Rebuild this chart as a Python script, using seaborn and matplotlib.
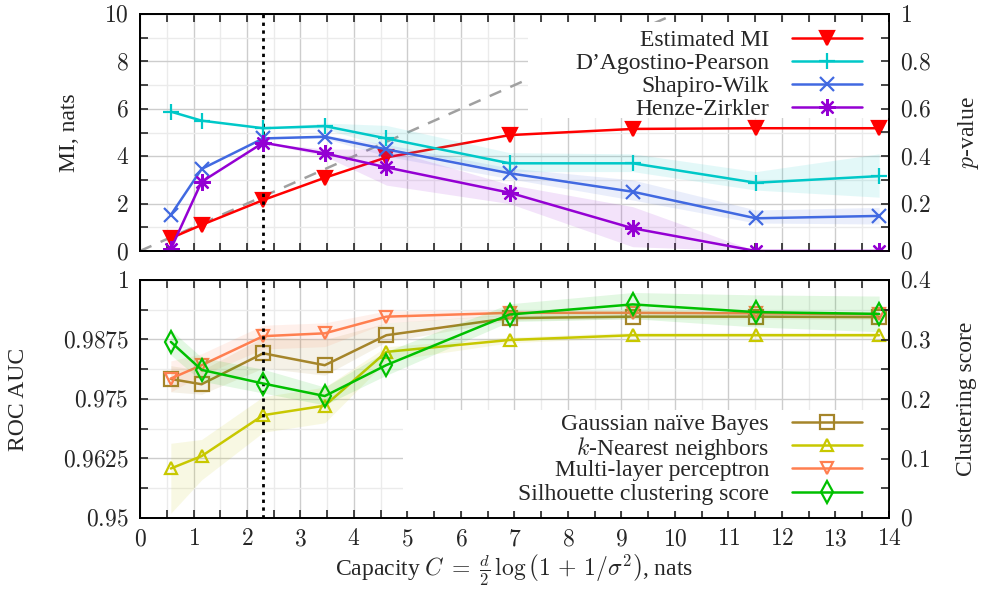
import matplotlib
matplotlib.use("Agg")
import matplotlib.pyplot as plt
import seaborn as sns
from matplotlib.patches import Rectangle
from matplotlib.ticker import MultipleLocator, FuncFormatter

# capacity values (nats) at which the experiments were run
capacity = [0.576, 1.151, 2.303, 3.454, 4.605, 6.908, 9.210, 11.513, 13.816]
capacity_marked = 2.303
diag = [0, 14]

# top panel: estimated MI (left axis) and normality test p-values (right axis)
mi_est = [0.54, 1.10, 2.15, 3.09, 3.95, 4.89, 5.15, 5.18, 5.18]

p_dagostino = [0.588, 0.550, 0.518, 0.527, 0.475, 0.370, 0.370, 0.288, 0.316]
p_dagostino_lo = [0.588, 0.550, 0.518, 0.515, 0.440, 0.335, 0.335, 0.257, 0.227]
p_dagostino_hi = [0.588, 0.550, 0.518, 0.540, 0.530, 0.415, 0.410, 0.335, 0.410]

p_shapiro = [0.152, 0.346, 0.475, 0.482, 0.429, 0.328, 0.250, 0.138, 0.148]
p_shapiro_lo = [0.152, 0.346, 0.475, 0.475, 0.400, 0.305, 0.215, 0.118, 0.114]
p_shapiro_hi = [0.152, 0.346, 0.475, 0.490, 0.450, 0.350, 0.300, 0.173, 0.184]

p_henze = [0.008, 0.292, 0.457, 0.412, 0.353, 0.246, 0.096, 0.0, 0.0]
p_henze_lo = [0.008, 0.292, 0.457, 0.400, 0.278, 0.200, 0.018, 0.0, 0.0]
p_henze_hi = [0.008, 0.292, 0.457, 0.430, 0.430, 0.280, 0.187, 0.0, 0.0]

# bottom panel: classifier ROC AUC (left axis) and clustering score (right axis)
auc_gnb = [0.9792, 0.9781, 0.9846, 0.9821, 0.9884, 0.9920, 0.9923, 0.9923, 0.9922]
auc_gnb_lo = [0.9765, 0.9760, 0.9815, 0.9800, 0.9870, 0.9915, 0.9918, 0.9918, 0.9917]
auc_gnb_hi = [0.9820, 0.9810, 0.9880, 0.9875, 0.9910, 0.9928, 0.9928, 0.9928, 0.9927]

auc_knn = [0.9604, 0.9630, 0.9716, 0.9736, 0.9849, 0.9874, 0.9884, 0.9884, 0.9884]
auc_knn_lo = [0.9510, 0.9580, 0.9680, 0.9700, 0.9830, 0.9868, 0.9880, 0.9880, 0.9880]
auc_knn_hi = [0.9657, 0.9665, 0.9755, 0.9775, 0.9860, 0.9880, 0.9890, 0.9890, 0.9890]

auc_mlp = [0.9793, 0.9821, 0.9882, 0.9888, 0.9923, 0.9931, 0.9931, 0.9930, 0.9928]
auc_mlp_lo = [0.9765, 0.9800, 0.9855, 0.9860, 0.9910, 0.9926, 0.9926, 0.9926, 0.9924]
auc_mlp_hi = [0.9830, 0.9845, 0.9905, 0.9910, 0.9935, 0.9936, 0.9936, 0.9934, 0.9932]

silhouette = [0.296, 0.249, 0.226, 0.205, 0.257, 0.342, 0.359, 0.346, 0.343]
silhouette_lo = [0.274, 0.230, 0.210, 0.190, 0.240, 0.330, 0.335, 0.321, 0.313]
silhouette_hi = [0.316, 0.270, 0.250, 0.220, 0.280, 0.360, 0.379, 0.375, 0.373]

sns.set_style("white")
plt.rcParams['font.family'] = ['Liberation Serif', 'DejaVu Serif']
plt.rcParams['mathtext.fontset'] = 'cm'
FS = 17

W = 982.0
H = 592.0
AX_W = 749.0


def draw_series(ax, y, color, marker, label, lo=None, hi=None, filled=False, ms=9):
    if lo is not None:
        ax.fill_between(capacity, lo, hi, color=color, alpha=0.11, lw=0)
    sns.lineplot(x=capacity, y=y, ax=ax, color=color, marker=marker, markersize=ms,
                 linewidth=1.8, markeredgecolor=color, markeredgewidth=1.6,
                 markerfacecolor=color if filled else 'none', label=label, legend=False)


def math_fmt(v, pos):
    return '${:g}$'.format(round(v, 6))


def style_axes(ax, ax2, xlabels):
    ax.set_xlim(0, 14)
    ax.xaxis.set_major_locator(MultipleLocator(1))
    ax.xaxis.set_minor_locator(MultipleLocator(0.5))
    ax.grid(which='major', color='#cdcdcd', lw=1)
    ax.grid(which='minor', color='#ebebeb', lw=1)
    ax.set_axisbelow(True)
    ax.tick_params(which='both', direction='in', length=6, width=1.2, top=True,
                   bottom=True, labelbottom=xlabels, labelsize=FS, pad=8)
    ax2.tick_params(which='both', direction='in', length=6, width=1.2, labelsize=FS, pad=8)
    for a in (ax, ax2):
        a.xaxis.set_major_formatter(FuncFormatter(math_fmt))
        a.yaxis.set_major_formatter(FuncFormatter(math_fmt))
        for s in a.spines.values():
            s.set_linewidth(1.3)
            s.set_color('black')
    ax.axvline(capacity_marked, color='black', ls=(0, (1.2, 1.6)), lw=2)


def add_key(ax, ax2, box, rows_px, ax_bottom_px, ax_h_px):
    # gnuplot-like key: white box, right-aligned text, sample line to the right
    ax2.add_patch(Rectangle(box[0], box[1], box[2], transform=ax2.transAxes,
                            facecolor='white', edgecolor='none', zorder=0.5))
    lines = ax.get_lines() + ax2.get_lines()
    lines = [ln for ln in lines if not ln.get_label().startswith('_')]
    x_text = (769 - 140) / AX_W
    x0 = (792 - 140) / AX_W
    x1 = (862 - 140) / AX_W
    for ln, ypx in zip(lines, rows_px):
        yy = (ax_bottom_px - ypx) / ax_h_px
        ax2.text(x_text, yy, ln.get_label(), transform=ax2.transAxes, ha='right',
                 va='center_baseline', fontsize=FS, zorder=5)
        ax2.plot([x0, x1], [yy, yy], transform=ax2.transAxes, color=ln.get_color(),
                 lw=ln.get_linewidth(), zorder=5, clip_on=False)
        ax2.plot([(x0 + x1) / 2], [yy], transform=ax2.transAxes, ls='none',
                 marker=ln.get_marker(), markersize=ln.get_markersize(),
                 markeredgecolor=ln.get_markeredgecolor(),
                 markerfacecolor=ln.get_markerfacecolor(),
                 markeredgewidth=ln.get_markeredgewidth(), zorder=6, clip_on=False)


fig = plt.figure(figsize=(9.82, 5.92), dpi=100)
ax_top = fig.add_axes([140 / W, 1 - 251 / H, AX_W / W, 237 / H])
ax_top2 = ax_top.twinx()
ax_bot = fig.add_axes([140 / W, 1 - 518 / H, AX_W / W, 238 / H])
ax_bot2 = ax_bot.twinx()

# --- top panel ---
ax_top.plot(diag, diag, color='#a0a0a0', ls=(0, (5, 4)), lw=1.8)
draw_series(ax_top, mi_est, '#ff0000', 'v', 'Estimated MI', filled=True, ms=10)
draw_series(ax_top2, p_dagostino, '#00c8c8', '+', 'D\u2019Agostino-Pearson',
            p_dagostino_lo, p_dagostino_hi, ms=12)
draw_series(ax_top2, p_shapiro, '#4169e1', 'x', 'Shapiro-Wilk',
            p_shapiro_lo, p_shapiro_hi, ms=10)
draw_series(ax_top2, p_henze, '#9400d3', (8, 2, 0), 'Henze-Zirkler',
            p_henze_lo, p_henze_hi, ms=12)
ax_top.set_ylim(0, 10)
ax_top.yaxis.set_major_locator(MultipleLocator(2))
ax_top.yaxis.set_minor_locator(MultipleLocator(1))
ax_top2.set_ylim(0, 1)
ax_top2.yaxis.set_major_locator(MultipleLocator(0.2))
ax_top2.yaxis.set_minor_locator(MultipleLocator(0.1))
style_axes(ax_top, ax_top2, False)
ax_top.set_ylabel('MI, nats', fontsize=FS)
ax_top.yaxis.set_label_coords(-0.080, 0.5)
ax_top2.set_ylabel('$p$-value', fontsize=FS)
ax_top2.yaxis.set_label_coords(1.090, 0.5)
add_key(ax_top, ax_top2, ((0.518, 0.561), 0.482, 0.405), [38, 61, 84, 107], 251, 237)

# --- bottom panel ---
draw_series(ax_bot, auc_gnb, '#a5852a', 's', 'Gaussian na\u00efve Bayes', auc_gnb_lo, auc_gnb_hi, ms=10)
draw_series(ax_bot, auc_knn, '#c8c800', '^', '$k$-Nearest neighbors', auc_knn_lo, auc_knn_hi, ms=9)
draw_series(ax_bot, auc_mlp, '#ff7f50', 'v', 'Multi-layer perceptron', auc_mlp_lo, auc_mlp_hi, ms=9)
draw_series(ax_bot2, silhouette, '#00c000', 'd', 'Silhouette clustering score',
            silhouette_lo, silhouette_hi, ms=11)
ax_bot.set_ylim(0.95, 1.0)
ax_bot.yaxis.set_major_locator(MultipleLocator(0.0125))
ax_bot.yaxis.set_minor_locator(MultipleLocator(0.00625))
ax_bot2.set_ylim(0, 0.4)
ax_bot2.yaxis.set_major_locator(MultipleLocator(0.1))
ax_bot2.yaxis.set_minor_locator(MultipleLocator(0.05))
style_axes(ax_bot, ax_bot2, True)
ax_bot.set_ylabel('ROC AUC', fontsize=FS)
ax_bot.yaxis.set_label_coords(-0.148, 0.5)
ax_bot2.set_ylabel('Clustering score', fontsize=FS)
ax_bot2.yaxis.set_label_coords(1.090, 0.5)
ax_bot.set_xlabel(r'Capacity $C\;=\;\frac{d}{2}\,\log\left(1\,+\,1/\sigma^2\right)$, nats',
                  fontsize=17, labelpad=2)
add_key(ax_bot, ax_bot2, ((0.351, 0.03), 0.649, 0.424), [422, 445, 468, 492], 518, 238)

fig.savefig('out.png', dpi=100)
